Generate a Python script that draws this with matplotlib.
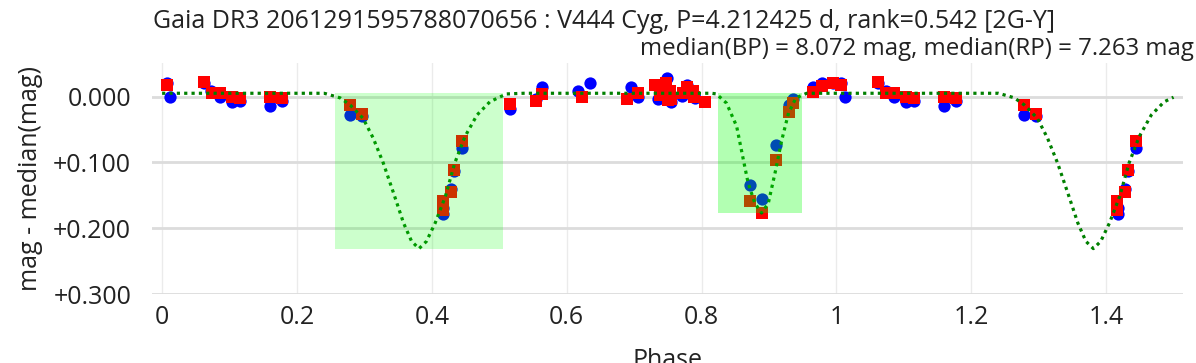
import numpy as np
import matplotlib
matplotlib.use("Agg")
import matplotlib.pyplot as plt
from matplotlib.patches import Rectangle
from matplotlib.ticker import FuncFormatter

plt.rcParams['font.family'] = ['Open Sans', 'DejaVu Sans']

title_main = "Gaia DR3 2061291595788070656 : V444 Cyg, P=4.212425 d, rank=0.542 [2G-Y]"
title_sub = "median(BP) = 8.072 mag, median(RP) = 7.263 mag"

# BP points (blue circles), phase in [0,1)
bp_phase = np.array([0.007, 0.012, 0.062, 0.073, 0.086, 0.103, 0.115, 0.160, 0.178,
                     0.278, 0.296, 0.417, 0.417, 0.428, 0.433, 0.444,
                     0.516, 0.554, 0.563, 0.617, 0.635, 0.696, 0.706,
                     0.736, 0.746, 0.749, 0.755, 0.771, 0.778, 0.790,
                     0.872, 0.890, 0.910, 0.929, 0.936, 0.965, 0.978, 0.995])
bp_mag = np.array([-0.020, 0.000, -0.020, -0.008, 0.000, 0.008, 0.006, 0.014, 0.007,
                   0.028, 0.030, 0.170, 0.179, 0.140, 0.113, 0.078,
                   0.019, 0.004, -0.014, -0.008, -0.020, -0.014, 0.000,
                   0.004, -0.010, -0.028, 0.008, -0.001, -0.018, 0.002,
                   0.135, 0.155, 0.073, 0.013, 0.004, -0.015, -0.021, -0.021])

# RP points (red squares)
rp_phase = np.array([0.007, 0.062, 0.074, 0.086, 0.103, 0.115, 0.160, 0.178,
                     0.278, 0.296, 0.416, 0.416, 0.428, 0.433, 0.444,
                     0.516, 0.554, 0.563, 0.622, 0.690, 0.706,
                     0.731, 0.738, 0.743, 0.748, 0.750, 0.753, 0.755,
                     0.772, 0.778, 0.788, 0.789, 0.805,
                     0.872, 0.890, 0.910, 0.929, 0.936, 0.965, 0.978, 0.995])
rp_mag = np.array([-0.018, -0.022, -0.005, -0.005, 0.000, 0.002, 0.000, 0.002,
                   0.013, 0.027, 0.159, 0.172, 0.145, 0.111, 0.068,
                   0.012, 0.007, -0.004, 0.001, 0.004, -0.006,
                   -0.018, -0.003, -0.005, -0.021, 0.005, -0.008, 0.004,
                   -0.005, -0.015, -0.008, 0.001, 0.008,
                   0.159, 0.177, 0.097, 0.023, 0.010, -0.007, -0.016, -0.021])

# model curve
model_phase = np.array([0.000, 0.240, 0.244, 0.264, 0.279, 0.298, 0.313, 0.328, 0.343,
                        0.358, 0.370, 0.381, 0.392, 0.405, 0.420, 0.434, 0.449,
                        0.467, 0.486, 0.500, 0.511, 0.536, 0.815, 0.822, 0.837,
                        0.852, 0.862, 0.869, 0.879, 0.889, 0.899, 0.909, 0.919,
                        0.929, 0.940, 0.956, 1.000])
model_mag = np.array([-0.005, -0.005, -0.004, 0.002, 0.013, 0.033, 0.063, 0.101, 0.146,
                      0.192, 0.220, 0.231, 0.220, 0.192, 0.152, 0.101, 0.061,
                      0.028, 0.008, 0.001, -0.004, -0.005, -0.005, -0.004, 0.010,
                      0.045, 0.096, 0.131, 0.162, 0.177, 0.162, 0.116, 0.066,
                      0.025, 0.002, -0.005, -0.005])

# eclipse windows: (start, end, top, bottom, alpha)
windows = [(0.256, 0.506, -0.005, 0.232, 0.2),
           (0.824, 0.949, -0.005, 0.177, 0.3)]

xticks = [0, 0.2, 0.4, 0.6, 0.8, 1, 1.2, 1.4]
yticks = [0.0, 0.1, 0.2, 0.3]


def extend(ph, mag):
    # repeat the first half cycle after phase 1
    sel = ph < 0.5
    return np.concatenate([ph, ph[sel] + 1]), np.concatenate([mag, mag[sel]])


bx, by = extend(bp_phase, bp_mag)
rx, ry = extend(rp_phase, rp_mag)
mx, my = extend(model_phase[model_phase < 1], model_mag[model_phase < 1])
mx = np.append(mx, 1.5)
my = np.append(my, model_mag[model_phase == 0.5])
order = np.argsort(mx)
mx, my = mx[order], my[order]

fig = plt.figure(figsize=(11.96, 3.63), dpi=100)
ax = fig.add_axes([152/1196, 1-294/363, (1183-152)/1196, (294-63)/363])

ax.scatter(bx, by, s=78, marker='o', color='#0000ff', linewidths=0, zorder=3)
ax.scatter(rx, ry, s=70, marker='s', color='#ff0000', linewidths=0, zorder=4)
ax.plot(mx, my, color='#008000', lw=2.3, linestyle=(0, (1, 1.3)), zorder=5)

for x0, x1, y0, y1, a in windows:
    ax.add_patch(Rectangle((x0, y0), x1 - x0, y1 - y0, facecolor=(0, 1, 0, a),
                           edgecolor='none', zorder=6))

ax.set_xlim(-0.015, 1.514)
ax.set_ylim(0.30, -0.051)
ax.set_xticks(xticks)
ax.set_yticks(yticks)
ax.xaxis.set_major_formatter(FuncFormatter(lambda v, p: '%g' % v))
ax.yaxis.set_major_formatter(FuncFormatter(lambda v, p: '0.000' if abs(v) < 1e-9 else '%+.3f' % v))
ax.tick_params(length=0, labelsize=18, colors='#222222')
ax.tick_params(axis='y', pad=15)
ax.tick_params(axis='x', pad=8)
ax.grid(axis='x', color='#ebebeb', lw=1)
ax.grid(axis='y', color='#dcdcdc', lw=2)
ax.set_axisbelow(True)
for s in ax.spines.values():
    s.set_visible(False)

ax.set_xlabel('Phase', fontsize=18, color='#222222', labelpad=13)
ax.set_ylabel('mag - median(mag)', fontsize=18, color='#222222', labelpad=7)

fig.text(0.505, 0.94, title_main, ha='center', va='center', fontsize=18, color='#222222')
fig.text(0.998, 0.865, title_sub, ha='right', va='center', fontsize=17.3, color='#222222')

fig.savefig('out.png', dpi=100)
